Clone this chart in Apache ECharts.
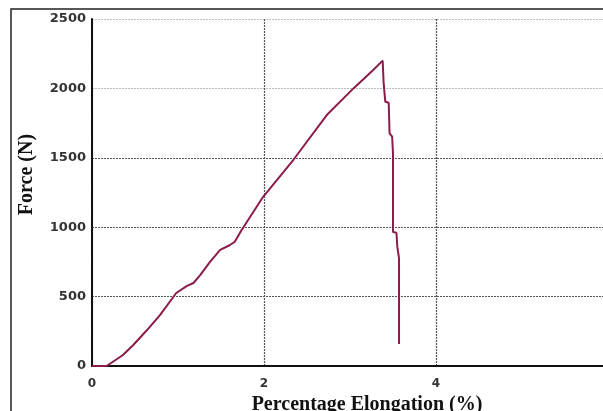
<!DOCTYPE html>
<html>
<head>
<meta charset="utf-8">
<script src="https://cdn.jsdelivr.net/npm/echarts@6/dist/echarts.min.js"></script>
<style>html,body{margin:0;padding:0;background:#fff}#c{width:603px;height:411px}</style>
</head>
<body>
<div id="c"></div>
<script>
const elongation = [0, 0.17, 0.36, 0.48, 0.64, 0.79, 0.98, 1.10, 1.18, 1.26, 1.37, 1.49, 1.60, 1.66, 1.74, 1.99, 2.34, 2.73, 3.04, 3.27, 3.38, 3.39, 3.41, 3.45, 3.46, 3.49, 3.50, 3.50, 3.54, 3.55, 3.57, 3.57];
const force =      [0, 0,    79,   151,  259,  367,  526,  576,  598,  656,  749,  836,  870,  895,  980,  1219, 1484, 1808, 2000, 2133, 2200, 2049, 1904, 1897, 1676, 1652, 1532, 965,  960,  860,  776,  158];
const xTicks = [0, 2, 4];
const yTicks = [0, 500, 1000, 1500, 2000, 2500];

const data = elongation.map((x, i) => [x, force[i]]);
const chart = echarts.init(document.getElementById('c'), null, {renderer: 'canvas'});
chart.setOption({
  animation: false,
  backgroundColor: '#fff',
  grid: {left: 92, top: 19, width: 516, height: 347, containLabel: false, outerBoundsMode: 'none'},
  graphic: [{
    type: 'rect', shape: {x: 11, y: 9, width: 620, height: 430},
    style: {fill: 'none', stroke: '#222', lineWidth: 1.5}, z: 0
  }],
  xAxis: {
    type: 'value', min: 0, max: 6, interval: 2,
    name: 'Percentage Elongation (%)', nameLocation: 'middle', nameGap: 28,
    nameTextStyle: {fontFamily: 'Liberation Serif', fontWeight: 'bold', fontSize: 20, color: '#111', padding: [0, 0, 0, 34]},
    axisLine: {lineStyle: {color: '#111', width: 2}},
    axisTick: {show: false},
    axisLabel: {
      showMaxLabel: false, margin: 12,
      formatter: v => (xTicks.includes(v) ? String(v) : ''),
      fontFamily: 'DejaVu Sans', fontWeight: 'bold', fontSize: 12, color: '#333'
    },
    splitLine: {show: true, lineStyle: {color: '#555', type: [2, 1], width: 1.2}}
  },
  yAxis: {
    type: 'value', min: 0, max: 2500, interval: 500,
    name: 'Force (N)', nameLocation: 'middle', nameGap: 55, nameRotate: 90,
    nameTextStyle: {fontFamily: 'Liberation Serif', fontWeight: 'bold', fontSize: 20, color: '#111', padding: [0, 0, 0, 36]},
    axisLine: {lineStyle: {color: '#111', width: 2}},
    axisTick: {show: false},
    axisLabel: {
      margin: 6,
      formatter: v => (yTicks.includes(v) ? String(v) : ''),
      fontFamily: 'DejaVu Sans', fontWeight: 'bold', fontSize: 13, color: '#333'
    },
    splitLine: {show: true, lineStyle: {color: ['#555', '#555', '#555', '#555', '#bbb', '#bbb'], type: [2, 1], width: 1.2}}
  },
  series: [{
    type: 'line', data: data, showSymbol: false, symbol: 'none',
    lineStyle: {color: '#8c1c4c', width: 2}, clip: true
  }]
});
</script>
</body>
</html>
